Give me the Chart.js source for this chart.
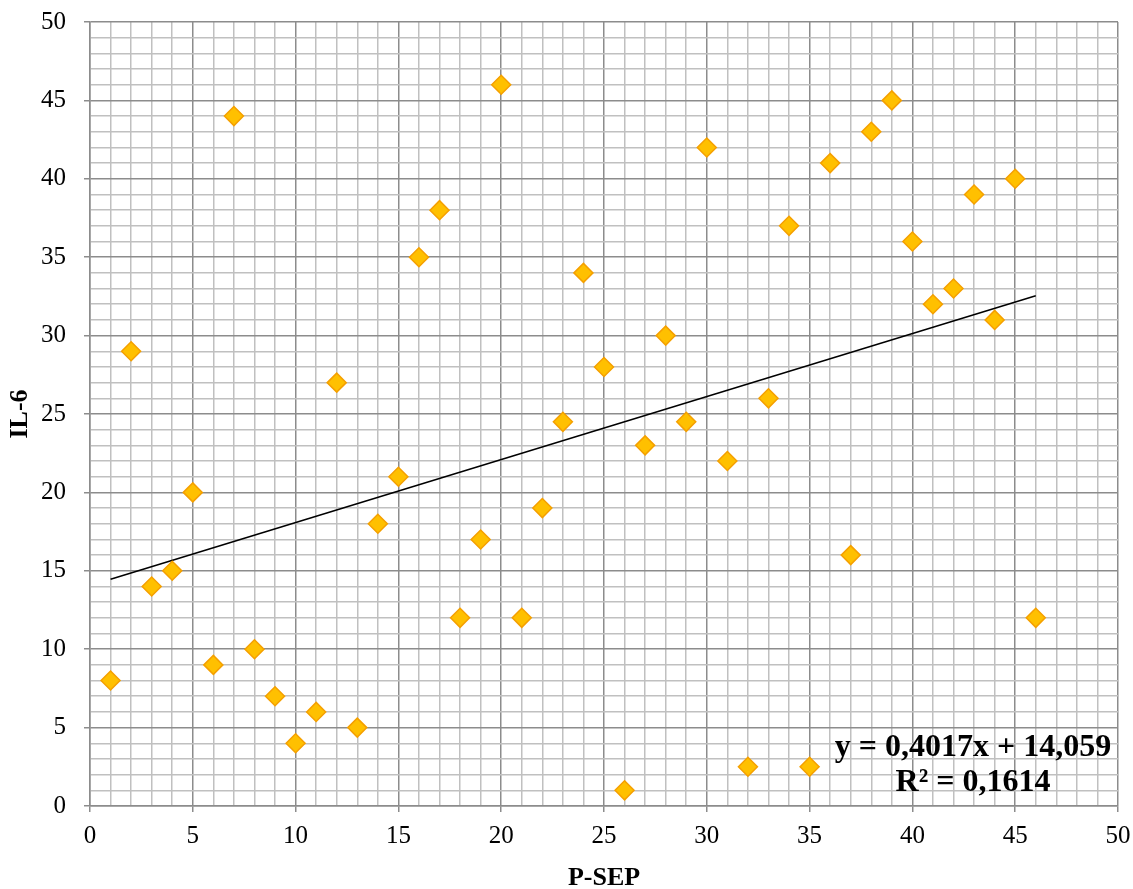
<!DOCTYPE html>
<html>
<head>
<meta charset="utf-8">
<script src="https://cdn.jsdelivr.net/npm/chart.js@4/dist/chart.umd.min.js"></script>
<style>
  body { margin: 0; background: #fff; }
  #wrap { width: 1133px; height: 889px; }
</style>
</head>
<body>
<div id="wrap"><canvas id="scatter_chart"></canvas></div>
<script>
// P-SEP vs IL-6 values
const pSep = [1, 2, 3, 4, 5, 6, 7, 8, 9, 10, 11, 12, 13, 14, 15, 16, 17, 18, 19, 20, 21, 22, 23,
  24, 25, 26, 27, 28, 29, 30, 31, 32, 33, 34, 35, 36, 37, 38, 39, 40, 41, 42, 43, 44, 45, 46];
const il6 = [8, 29, 14, 15, 20, 9, 44, 10, 7, 4, 6, 27, 5, 18, 21, 35, 38, 12, 17, 46, 12, 19, 24.5,
  34, 28, 1, 23, 30, 24.5, 42, 22, 2.5, 26, 37, 2.5, 41, 16, 43, 45, 36, 32, 33, 39, 31, 40, 12];

// linear trendline shown on the chart
const slope = 0.4017;
const intercept = 14.059;
const trendX = [1, 46];
const eqLines = ["y = 0,4017x + 14,059", "R\u00b2 = 0,1614"];

const points = [];
for (let i = 0; i < pSep.length; i++) {
  points[i] = { x: pSep[i], y: il6[i] };
}
const trend = trendX.map((x) => ({ x: x, y: slope * x + intercept }));

const font = "'Liberation Serif', 'Times New Roman', serif";

function gridColor(ctx) {
  return ctx.tick && ctx.tick.value % 5 === 0 ? "#8c8c8c" : "#c0c0c0";
}
function tickColor(ctx) {
  return ctx.tick && ctx.tick.value % 5 === 0 ? "#8c8c8c" : "rgba(0,0,0,0)";
}
function label(v) {
  return v % 5 === 0 ? v : "";
}

const equationPlugin = {
  id: "equation",
  afterDatasetsDraw(chart) {
    const ctx = chart.ctx;
    ctx.save();
    ctx.font = "bold 32px " + font;
    ctx.fillStyle = "#000";
    ctx.textAlign = "center";
    ctx.textBaseline = "middle";
    const cx = chart.chartArea.right - 145;
    ctx.fillText(eqLines[0], cx, chart.chartArea.bottom - 58);
    ctx.fillText(eqLines[1], cx, chart.chartArea.bottom - 23);
    ctx.restore();
  },
};

let scatter_chart = document.getElementById("scatter_chart");
let scatterChart = new Chart(scatter_chart, {
  type: "scatter",
  data: {
    datasets: [
      {
        label: "IL-6",
        data: points,
        pointStyle: "rectRot",
        pointRadius: 9.5,
        pointHoverRadius: 9.5,
        backgroundColor: "#FFC000",
        borderColor: "#F5A000",
        borderWidth: 1.5,
      },
      {
        type: "line",
        label: "Trend",
        data: trend,
        borderColor: "#000",
        borderWidth: 1.5,
        pointRadius: 0,
        fill: false,
      },
    ],
  },
  options: {
    responsive: true,
    maintainAspectRatio: false,
    animation: false,
    layout: { padding: { top: 22, right: 15, left: 0, bottom: 0 } },
    plugins: {
      legend: { display: false },
      tooltip: { enabled: false },
    },
    scales: {
      x: {
        type: "linear",
        min: 0,
        max: 50,
        afterFit: (s) => {
          s.height = 83;
          s.paddingLeft = 0;
          s.paddingRight = 0;
        },
        ticks: {
          stepSize: 1,
          autoSkip: false,
          maxRotation: 0,
          maxTicksLimit: 100,
          padding: 9,
          color: "#000",
          font: { family: font, size: 25 },
          callback: label,
        },
        grid: { color: gridColor, tickColor: tickColor, tickLength: 6, lineWidth: 1.5 },
        border: { color: "#8c8c8c", width: 1.5 },
        title: {
          display: true,
          text: "P-SEP",
          color: "#000",
          font: { family: font, size: 26, weight: "bold" },
          padding: { top: 0, bottom: -5 },
        },
      },
      y: {
        min: 0,
        max: 50,
        afterFit: (s) => {
          s.width = 90;
          s.paddingTop = 0;
          s.paddingBottom = 0;
        },
        ticks: {
          stepSize: 1,
          autoSkip: false,
          maxTicksLimit: 100,
          padding: 18,
          color: "#000",
          font: { family: font, size: 25 },
          callback: label,
        },
        grid: { color: gridColor, tickColor: tickColor, tickLength: 6, lineWidth: 1.5 },
        border: { color: "#8c8c8c", width: 1.5 },
        title: {
          display: true,
          text: "IL-6",
          color: "#000",
          font: { family: font, size: 26, weight: "bold" },
          padding: { top: 5, bottom: 0 },
        },
      },
    },
  },
  plugins: [equationPlugin],
});
</script>
</body>
</html>
